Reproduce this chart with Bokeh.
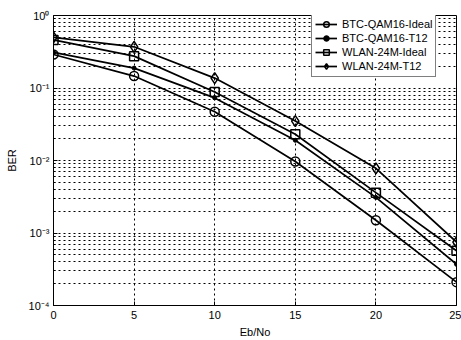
from bokeh.plotting import figure
from bokeh.models import FixedTicker, CustomJSTickFormatter, Legend
from bokeh.embed import file_html
from bokeh.resources import INLINE

ebno = [0, 5, 10, 15, 20, 25]
btc_ideal = [0.29, 0.146, 0.047, 0.0097, 0.0015, 0.00021]
btc_t12 = [0.31, 0.188, 0.073, 0.019, 0.0031, 0.00037]
wlan_ideal = [0.46, 0.275, 0.088, 0.023, 0.0036, 0.00057]
wlan_t12 = [0.50, 0.37, 0.137, 0.035, 0.0078, 0.00075]

x_ticks = [0, 5, 10, 15, 20, 25]
y_ticks = [1e-4, 1e-3, 1e-2, 1e-1, 1e0]
y_tick_labels = ["10\u207b\u2074", "10\u207b\u00b3", "10\u207b\u00b2", "10\u207b\u00b9", "10\u2070"]

FONT = "Liberation Sans"

p = figure(width=461, height=340, output_backend="svg", toolbar_location=None,
           y_axis_type="log", x_range=(0, 25), y_range=(1e-4, 1),
           min_border_left=53, min_border_right=5, min_border_top=15, min_border_bottom=33)
p.background_fill_color = "white"
p.border_fill_color = "white"
p.outline_line_color = "black"
p.outline_line_width = 1

minor_y = [m * d for d in [1e-4, 1e-3, 1e-2, 1e-1] for m in range(2, 10)]

p.xaxis.ticker = FixedTicker(ticks=x_ticks)
p.yaxis.ticker = FixedTicker(ticks=y_ticks, minor_ticks=minor_y)
p.yaxis.formatter = CustomJSTickFormatter(args=dict(labels=y_tick_labels),
    code="return labels[Math.round(Math.log10(tick)) + 4];")

for ax in (p.xaxis[0], p.yaxis[0]):
    ax.axis_line_color = "black"
    ax.major_tick_in = 4
    ax.major_tick_out = 0
    ax.minor_tick_in = 2
    ax.minor_tick_out = 0
    ax.major_label_text_font = FONT
    ax.major_label_text_font_size = "11px"
    ax.major_label_text_color = "black"
    ax.axis_label_text_font = FONT
    ax.axis_label_text_font_size = "11px"
    ax.axis_label_text_font_style = "normal"
    ax.axis_label_text_color = "black"

p.xaxis.axis_label = "Eb/No"
p.yaxis.axis_label = "BER"
p.xaxis.major_label_standoff = 5
p.xaxis.axis_label_standoff = 4
p.yaxis.major_label_standoff = 4
p.yaxis.axis_label_standoff = 8

p.xgrid.grid_line_color = "black"
p.xgrid.grid_line_dash = "2 3"
p.xgrid.grid_line_width = 1
p.ygrid.grid_line_color = "black"
p.ygrid.grid_line_dash = "2 3"
p.ygrid.grid_line_width = 1
p.ygrid.minor_grid_line_color = "black"
p.ygrid.minor_grid_line_dash = "2 3"
p.ygrid.minor_grid_line_width = 1

LW = 1.7
r1 = p.line(ebno, btc_ideal, line_color="black", line_width=LW)
s1 = p.scatter(ebno, btc_ideal, marker="circle", size=9, line_color="black", fill_color=None, line_width=1.5)
r2 = p.line(ebno, btc_t12, line_color="black", line_width=LW)
s2 = p.scatter(ebno, btc_t12, marker="circle", size=4, line_color="black", fill_color="black")
r3 = p.line(ebno, wlan_ideal, line_color="black", line_width=LW)
s3 = p.scatter(ebno, wlan_ideal, marker="square", size=9, line_color="black", fill_color=None, line_width=1.5)
r4 = p.line(ebno, wlan_t12, line_color="black", line_width=LW)
s4 = p.scatter(ebno, wlan_t12, marker="diamond", size=11, line_color="black", fill_color=None, line_width=1.5)

legend = Legend(items=[("BTC-QAM16-Ideal", [r1, s1]), ("BTC-QAM16-T12", [r2, s2]),
                       ("WLAN-24M-Ideal", [r3, s3]), ("WLAN-24M-T12", [r4, s4])],
                location=(258, 228))
legend.border_line_color = "black"
legend.border_line_width = 1
legend.background_fill_color = "white"
legend.background_fill_alpha = 1
legend.label_text_font = FONT
legend.label_text_font_size = "11px"
legend.label_text_color = "black"
legend.glyph_width = 22
legend.glyph_height = 14
legend.label_height = 14
legend.label_standoff = 5
legend.spacing = 0
legend.padding = 3
legend.margin = 0
p.add_layout(legend, "center")

open("out.html", "w").write(file_html(p, INLINE))
